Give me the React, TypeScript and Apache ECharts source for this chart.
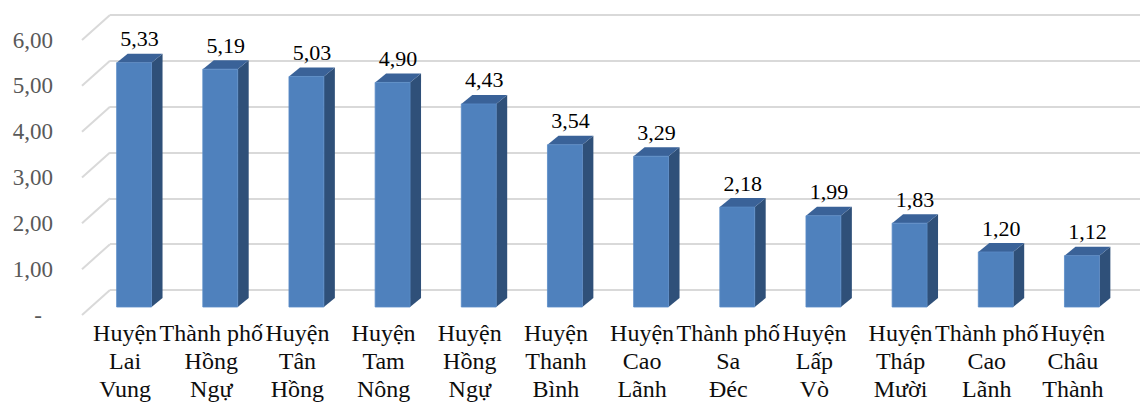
import React, { useEffect, useRef } from "react";
import * as echarts from "echarts";

const categories: string[] = [
  "Huyện\nLai\nVung",
  "Thành phố\nHồng\nNgự",
  "Huyện\nTân\nHồng",
  "Huyện\nTam\nNông",
  "Huyện\nHồng\nNgự",
  "Huyện\nThanh\nBình",
  "Huyện\nCao\nLãnh",
  "Thành phố\nSa\nĐéc",
  "Huyện\nLấp\nVò",
  "Huyện\nTháp\nMười",
  "Thành phố\nCao\nLãnh",
  "Huyện\nChâu\nThành",
];
const values: number[] = [5.33, 5.19, 5.03, 4.9, 4.43, 3.54, 3.29, 2.18, 1.99, 1.83, 1.2, 1.12];
const yTicks: number[] = [0, 1, 2, 3, 4, 5, 6];

const FONT = "'Liberation Serif', 'DejaVu Serif', serif";
const fmt = (v: number) => v.toFixed(2).replace(".", ",");

export default function App() {
  const ref = useRef<HTMLDivElement>(null);
  useEffect(() => {
    if (!ref.current) return;
    const chart = echarts.init(ref.current, null, { renderer: "svg" });
    const BACK_DX = 28;
    const BACK_DY = -25;
    const OFF_DX = 9;
    const OFF_DY = -8;
    const DEP_DX = 11;
    const DEP_DY = -9;
    chart.setOption({
      animation: false,
      backgroundColor: "#ffffff",
      grid: [
        { left: 82, right: 24, top: 40, bottom: 91 },
        { left: 110, right: 0, top: 15, bottom: 116 },
      ],
      xAxis: [
        {
          type: "category",
          gridIndex: 0,
          data: categories,
          axisLine: { show: false },
          axisTick: { show: false },
          axisLabel: {
            interval: 0,
            margin: 4,
            color: "#0d0d0d",
            fontFamily: FONT,
            fontSize: 24,
            lineHeight: 28,
          },
        },
        {
          type: "category",
          gridIndex: 1,
          data: categories,
          show: false,
        },
      ],
      yAxis: [
        {
          type: "value",
          gridIndex: 0,
          min: 0,
          max: 6,
          interval: 1,
          axisLine: { show: false },
          axisTick: { show: false },
          splitLine: { show: false },
          axisLabel: {
            margin: 29,
            color: "#595959",
            fontFamily: FONT,
            fontSize: 23,
            formatter: (v: number) => (v === 0 ? "{d|-}" : fmt(v)),
            rich: {
              d: { padding: [0, 11, 0, 0], color: "#595959", fontFamily: FONT, fontSize: 23 },
            },
          },
        },
        {
          type: "value",
          gridIndex: 1,
          min: 0,
          max: 6,
          interval: 1,
          axisLine: { show: false },
          axisTick: { show: false },
          axisLabel: { show: false },
          splitLine: { show: true, lineStyle: { color: "#d9d9d9", width: 2 } },
        },
      ],
      series: [
        {
          type: "custom",
          xAxisIndex: 0,
          yAxisIndex: 0,
          data: yTicks.map((v) => [0, v]),
          silent: true,
          renderItem: (params: any, api: any) => {
            const y = api.coord([0, api.value(1)])[1];
            const x = params.coordSys.x;
            return {
              type: "line",
              shape: { x1: x, y1: y, x2: x + BACK_DX, y2: y + BACK_DY },
              style: { stroke: "#d9d9d9", lineWidth: 2 },
            };
          },
        },
        {
          type: "custom",
          xAxisIndex: 0,
          yAxisIndex: 0,
          data: values.map((v, i) => [i, v]),
          renderItem: (params: any, api: any) => {
            const i = api.value(0);
            const v = api.value(1);
            const base = api.coord([i, 0]);
            const top = api.coord([i, v]);
            const bw = api.size([1, 0])[0] * 0.405;
            const x0 = base[0] + OFF_DX - bw / 2;
            const x1 = x0 + bw;
            const yb = base[1] + OFF_DY;
            const yt = top[1] + OFF_DY;
            return {
              type: "group",
              children: [
                {
                  type: "polygon",
                  shape: {
                    points: [
                      [x1, yt],
                      [x1 + DEP_DX, yt + DEP_DY],
                      [x1 + DEP_DX, yb + DEP_DY],
                      [x1, yb],
                    ],
                  },
                  style: { fill: "#2f5079" },
                },
                {
                  type: "polygon",
                  shape: {
                    points: [
                      [x0, yt],
                      [x0 + DEP_DX, yt + DEP_DY],
                      [x1 + DEP_DX, yt + DEP_DY],
                      [x1, yt],
                    ],
                  },
                  style: { fill: "#3a6298" },
                },
                {
                  type: "rect",
                  shape: { x: x0, y: yt, width: bw, height: yb - yt },
                  style: { fill: "#4f81bd", stroke: "#5a8bc6", lineWidth: 0.8 },
                },
                {
                  type: "text",
                  x: (x0 + x1 + DEP_DX) / 2,
                  y: yt + DEP_DY - 4,
                  style: {
                    text: fmt(v),
                    fill: "#000000",
                    fontFamily: FONT,
                    fontSize: 22,
                    textAlign: "center",
                    textVerticalAlign: "bottom",
                  },
                },
              ],
            };
          },
        },
      ],
    });
    return () => chart.dispose();
  }, []);
  return (
    <div
      ref={ref}
      style={{ position: "absolute", left: 0, top: 0, width: 1140, height: 406 }}
    />
  );
}
